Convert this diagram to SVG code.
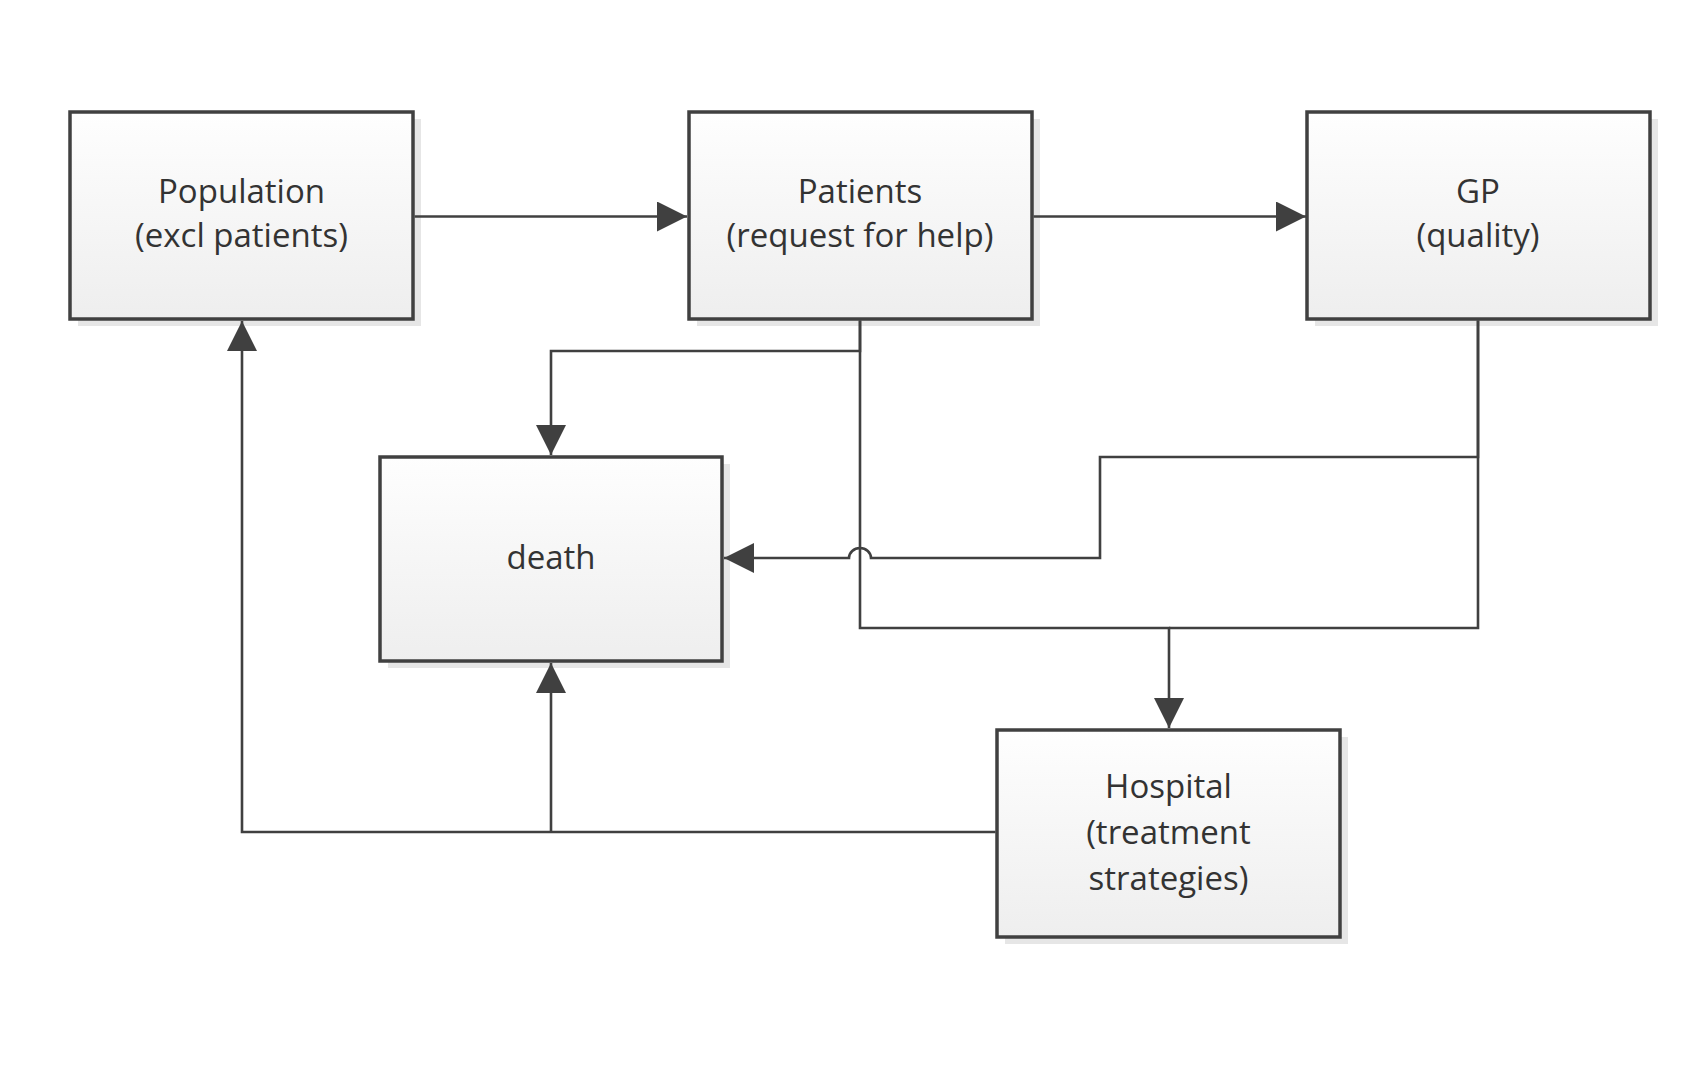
<svg xmlns="http://www.w3.org/2000/svg" width="1696" height="1076" viewBox="0 0 1696 1076">
  <defs>
    <linearGradient id="boxFill" x1="0" y1="0" x2="0" y2="1">
      <stop offset="0" stop-color="#fefefe"/>
      <stop offset="1" stop-color="#eeeeee"/>
    </linearGradient>
    <marker id="arrow" markerUnits="userSpaceOnUse" markerWidth="30" markerHeight="30" refX="30" refY="15" orient="auto" viewBox="0 0 30 30">
      <path d="M0,0 L30,15 L0,30 Z" fill="#404040"/>
    </marker>
  </defs>
  <style>
    .shadow { fill: #e6e6e6; }
    .box { fill: url(#boxFill); stroke: #404040; stroke-width: 3.5; }
    .label { font-family: "Open Sans", "Liberation Sans", sans-serif; font-size: 33px; fill: #333333; text-anchor: middle; }
    .conn { fill: none; stroke: #404040; stroke-width: 2.6; }
  </style>
  <rect width="1696" height="1076" fill="#ffffff"/>

  <g id="population">
    <rect class="shadow" x="78" y="119" width="343" height="207"/>
    <rect class="box" x="70" y="112" width="343" height="207"/>
    <text class="label" x="241.5" y="203">Population</text>
    <text class="label" x="241.5" y="247">(excl patients)</text>
  </g>

  <g id="patients">
    <rect class="shadow" x="697" y="119" width="343" height="207"/>
    <rect class="box" x="689" y="112" width="343" height="207"/>
    <text class="label" x="860" y="203">Patients</text>
    <text class="label" x="860" y="247">(request for help)</text>
  </g>

  <g id="gp">
    <rect class="shadow" x="1315" y="119" width="343" height="207"/>
    <rect class="box" x="1307" y="112" width="343" height="207"/>
    <text class="label" x="1478" y="203">GP</text>
    <text class="label" x="1478" y="247">(quality)</text>
  </g>

  <g id="death">
    <rect class="shadow" x="388" y="464" width="342" height="204"/>
    <rect class="box" x="380" y="457" width="342" height="204"/>
    <text class="label" x="551" y="569">death</text>
  </g>

  <g id="hospital">
    <rect class="shadow" x="1005" y="737" width="343" height="207"/>
    <rect class="box" x="997" y="730" width="343" height="207"/>
    <text class="label" x="1168.5" y="798">Hospital</text>
    <text class="label" x="1168.5" y="844">(treatment</text>
    <text class="label" x="1168.5" y="890">strategies)</text>
  </g>

  <g id="connectors">
    <path class="conn" d="M414.5 216.5 H687" marker-end="url(#arrow)"/>
    <path class="conn" d="M1033.5 216.5 H1306" marker-end="url(#arrow)"/>
    <path class="conn" d="M860 320.5 V351 H551 V455" marker-end="url(#arrow)"/>
    <path class="conn" d="M860 320.5 V628 H1169 V728" marker-end="url(#arrow)"/>
    <path class="conn" d="M1478 320.5 V628 H1169"/>
    <path class="conn" d="M1478 320.5 V457 H1100 V558 H871 A11 10 0 0 0 849 558 H724" marker-end="url(#arrow)"/>
    <path class="conn" d="M995.5 832 H242 V321" marker-end="url(#arrow)"/>
    <path class="conn" d="M551 832 V663" marker-end="url(#arrow)"/>
  </g>
</svg>
